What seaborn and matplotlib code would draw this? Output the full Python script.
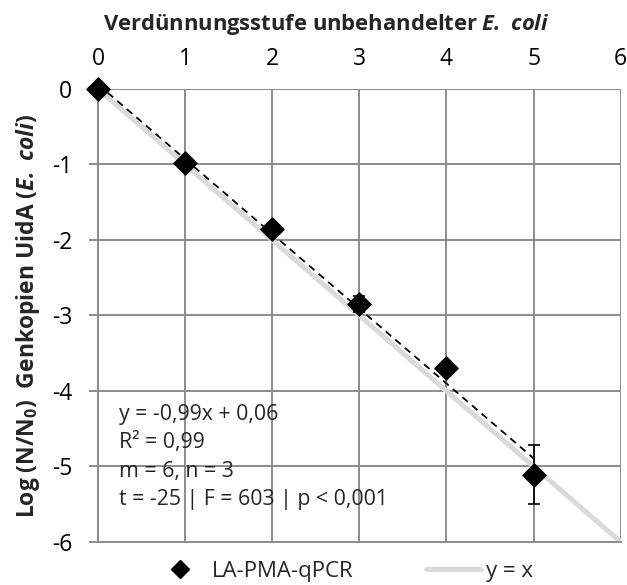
import numpy as np
import pandas as pd
import matplotlib
matplotlib.use("Agg")
import matplotlib.pyplot as plt
import seaborn as sns
from matplotlib.lines import Line2D

# data
stufe = [0, 1, 2, 3, 4, 5]
log_n = [0.0, -0.98, -1.86, -2.85, -3.69, -5.11]
fehler = [0.0, 0.05, 0.03, 0.11, 0.03, 0.39]
ident_x = [0, 6]
ident_y = [0, -6]
stats_text = "y = -0,99x + 0,06\nR² = 0,99\nm = 6, n = 3\nt = -25 | F = 603 | p < 0,001"

df = pd.DataFrame({"stufe": stufe, "log_n": log_n, "fehler": fehler})

sns.set_theme(style="white")
plt.rcParams["font.family"] = ["Open Sans", "DejaVu Sans"]
plt.rcParams["axes.unicode_minus"] = False
plt.rcParams["mathtext.fontset"] = "custom"
plt.rcParams["mathtext.rm"] = "Open Sans"
plt.rcParams["mathtext.it"] = "Open Sans:italic"
plt.rcParams["mathtext.bf"] = "Open Sans:bold"
plt.rcParams["mathtext.bfit"] = "Open Sans:italic:bold"

grid_c = "#8c8c8c"
ident_c = "#dadada"

fig = plt.figure(figsize=(6.27, 5.85), dpi=100)
ax = fig.add_axes([0.1563, 0.0735, 0.8337, 0.7744])

# identity line (legend "y = x")
ax.plot(ident_x, ident_y, color=ident_c, lw=3.6, solid_capstyle="butt", zorder=2)

# regression line (dashed)
sns.regplot(data=df, x="stufe", y="log_n", ax=ax, scatter=False, ci=None,
            line_kws=dict(color="black", lw=1.3, ls=(0, (4, 3)), zorder=3))

ax.errorbar(df["stufe"], df["log_n"], yerr=df["fehler"], fmt="none",
            ecolor="black", elinewidth=1.2, capsize=4, capthick=1.2, zorder=4)
sns.scatterplot(data=df, x="stufe", y="log_n", ax=ax, marker="D", s=140,
                color="black", edgecolor="black", zorder=5, clip_on=False,
                legend=False)

ax.set_xlim(0, 6)
ax.set_ylim(-6, 0)
ax.set_xticks(range(0, 7))
ax.set_yticks(range(-6, 1))
ax.grid(True, color=grid_c, lw=1.4)
ax.set_axisbelow(True)
for s in ["top", "right"]:
    ax.spines[s].set_visible(False)
for s in ["left", "bottom"]:
    ax.spines[s].set_color(grid_c)
    ax.spines[s].set_linewidth(1.4)

ax.xaxis.tick_top()
ax.xaxis.set_label_position("top")
ax.tick_params(axis="x", top=False, labelsize=16.5, pad=7, colors="black")
ax.tick_params(axis="y", left=True, length=6.5, width=1.4, color=grid_c,
               labelsize=16.5, pad=12, labelcolor="black")

ax.set_xlabel(r"Verdünnungsstufe unbehandelter $\mathbfit{E.\ coli}$",
              fontsize=15.8, fontweight="bold", labelpad=12)
ax.xaxis.label.set_x(0.436)
ax.set_ylabel(r"Log (N/N$_\mathbf{0}$)  Genkopien UidA ($\mathbfit{E.\ coli}$)",
              fontsize=16.5, fontweight="bold", labelpad=7)

ax.text(0.24, -4.17, stats_text, fontsize=15.3, va="top", ha="left",
        linespacing=1.47, zorder=6)

handles = [
    Line2D([], [], marker="D", color="black", ls="none", markersize=9),
    Line2D([], [], color=ident_c, lw=3.6),
]
fig.legend(handles, ["LA-PMA-qPCR", "y = x"], loc="center left",
           bbox_to_anchor=(152 / 627, 14 / 585), ncol=2, frameon=False,
           fontsize=16, columnspacing=3.25, handlelength=2.5,
           handletextpad=0.2, borderpad=0, borderaxespad=0)

fig.savefig("out.png", dpi=100)
